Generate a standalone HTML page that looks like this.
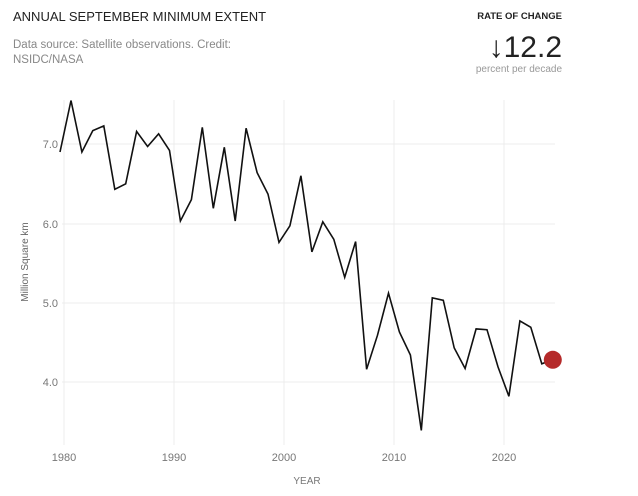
<!DOCTYPE html>
<html><head><meta charset="utf-8"><style>
body{margin:0;width:638px;height:491px;background:#fff;overflow:hidden;font-family:"Liberation Sans",sans-serif;}
</style></head><body>
<svg width="638" height="491" viewBox="0 0 638 491" xmlns="http://www.w3.org/2000/svg" font-family="Liberation Sans, sans-serif">
<text x="13" y="21" font-size="13" fill="#222">ANNUAL SEPTEMBER MINIMUM EXTENT</text>
<text x="13" y="48" font-size="11.5" fill="#888">Data source: Satellite observations. Credit:</text>
<text x="13" y="63" font-size="11.5" fill="#888">NSIDC/NASA</text>
<text x="562" y="19" font-size="9.5" font-weight="bold" fill="#222" text-anchor="end">RATE OF CHANGE</text>
<text x="562" y="57" font-size="30" fill="#222" text-anchor="end">↓12.2</text>
<text x="562" y="72" font-size="10" fill="#999" text-anchor="end">percent per decade</text>
<g stroke="#ececec" stroke-width="1">
<line x1="62" y1="144" x2="555" y2="144"/>
<line x1="62" y1="224" x2="555" y2="224"/>
<line x1="62" y1="303" x2="555" y2="303"/>
<line x1="62" y1="382" x2="555" y2="382"/>
<line x1="64" y1="100" x2="64" y2="445"/>
<line x1="174" y1="100" x2="174" y2="445"/>
<line x1="284" y1="100" x2="284" y2="445"/>
<line x1="394" y1="100" x2="394" y2="445"/>
<line x1="504" y1="100" x2="504" y2="445"/>
</g>
<g font-size="11" fill="#777" text-anchor="end">
<text x="58" y="148">7.0</text><text x="58" y="228">6.0</text><text x="58" y="307">5.0</text><text x="58" y="386">4.0</text>
</g>
<g font-size="11" fill="#777" text-anchor="middle">
<text x="64" y="461">1980</text><text x="174" y="461">1990</text><text x="284" y="461">2000</text><text x="394" y="461">2010</text><text x="504" y="461">2020</text>
<text x="307" y="484" font-size="10">YEAR</text>
</g>
<text transform="translate(28,262) rotate(-90)" font-size="10" fill="#666" text-anchor="middle">Million Square km</text>
<polyline id="ln" fill="none" stroke="#111" stroke-width="1.6" stroke-linejoin="miter" points=""/>
<circle id="dot" cx="553" cy="361" r="9" fill="#b52a2a"/>
</svg>
<script>
var v=[6.9,7.55,6.9,7.17,7.23,6.43,6.5,7.16,6.97,7.13,6.92,6.03,6.3,7.21,6.19,6.96,6.03,7.2,6.64,6.37,5.76,5.97,6.6,5.64,6.02,5.8,5.32,5.77,4.16,4.59,5.12,4.63,4.34,3.39,5.06,5.03,4.43,4.17,4.67,4.66,4.19,3.82,4.77,4.69,4.23,4.28];
var p=[];for(var i=0;i<v.length;i++){var x=60+i*10.95,y=382-(v[i]-4)*79.3;p.push(x.toFixed(1)+","+y.toFixed(1));}
document.getElementById("ln").setAttribute("points",p.join(" "));
var l=p[p.length-1].split(",");var d=document.getElementById("dot");d.setAttribute("cx",l[0]);d.setAttribute("cy",l[1]);
</script>
</body></html>
